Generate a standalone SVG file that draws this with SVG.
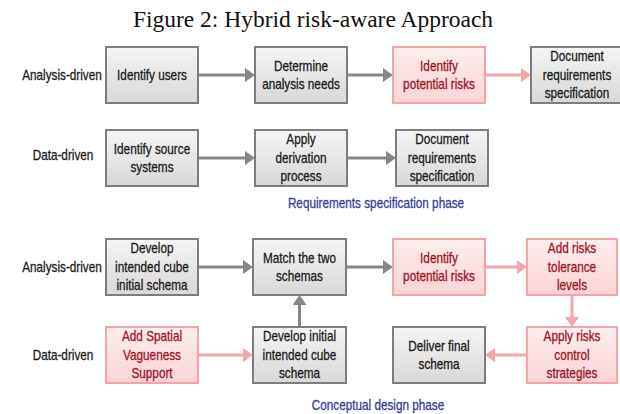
<svg xmlns="http://www.w3.org/2000/svg" width="620" height="414" viewBox="0 0 620 414">
  <style>
    .title { font-family: "Liberation Serif", "Times New Roman", serif; font-size: 23.5px; fill: #111; }
    .t, .lane, .phase {
      font-family: "Liberation Sans", Arial, sans-serif; font-size: 14px; text-anchor: middle;
      transform-box: fill-box; transform-origin: center; transform: scaleX(0.84);
      stroke-width: 0.3;
    }
    .grey rect { fill: url(#gGrey); stroke: #7d7d7d; stroke-width: 2; }
    .grey text { fill: #1c1c1c; stroke: #1c1c1c; }
    .risk rect { fill: url(#gPink); stroke: #f4a3a6; stroke-width: 2; }
    .risk text { fill: #9c1529; stroke: #9c1529; }
    .lane { fill: #1c1c1c; stroke: #1c1c1c; }
    .phase { fill: #3b3ba0; stroke: #3b3ba0; }
    .cg { stroke: #868686; stroke-width: 3; fill: none; marker-end: url(#hGrey); }
    .cp { stroke: #f6a5a8; stroke-width: 3; fill: none; marker-end: url(#hPink); }
  </style>
  <defs>
    <linearGradient id="gGrey" x1="0" y1="0" x2="0" y2="1">
      <stop offset="0" stop-color="#f5f5f5"/>
      <stop offset="1" stop-color="#d8d8d8"/>
    </linearGradient>
    <linearGradient id="gPink" x1="0" y1="0" x2="0" y2="1">
      <stop offset="0" stop-color="#fdeeee"/>
      <stop offset="1" stop-color="#fbd3d5"/>
    </linearGradient>
    <marker id="hGrey" viewBox="0 0 10 14" refX="4" refY="7" markerWidth="10" markerHeight="14" markerUnits="userSpaceOnUse" orient="auto">
      <path d="M0,0 L10,7 L0,14 z" fill="#868686"/>
    </marker>
    <marker id="hPink" viewBox="0 0 10 14" refX="4" refY="7" markerWidth="10" markerHeight="14" markerUnits="userSpaceOnUse" orient="auto">
      <path d="M0,0 L10,7 L0,14 z" fill="#f6a5a8"/>
    </marker>
  </defs>

  <rect width="620" height="414" fill="#ffffff"/>

  <text class="title" x="313" y="27" text-anchor="middle">Figure 2: Hybrid risk-aware Approach</text>

  <!-- swim-lane labels -->
  <text class="lane" x="62" y="80">Analysis-driven</text>
  <text class="lane" x="63" y="160">Data-driven</text>
  <text class="lane" x="62" y="272">Analysis-driven</text>
  <text class="lane" x="63" y="360">Data-driven</text>

  <!-- connectors -->
  <g id="connectors">
    <line class="cg" x1="198" y1="75" x2="249" y2="75"/>
    <line class="cg" x1="347" y1="75" x2="387" y2="75"/>
    <line class="cp" x1="485" y1="75" x2="525" y2="75"/>

    <line class="cg" x1="198" y1="158" x2="249" y2="158"/>
    <line class="cg" x1="347" y1="158" x2="390" y2="158"/>

    <line class="cg" x1="198" y1="267" x2="247" y2="267"/>
    <line class="cg" x1="346" y1="267" x2="387" y2="267"/>
    <line class="cp" x1="485" y1="267" x2="521" y2="267"/>

    <line class="cg" x1="299.5" y1="327" x2="299.5" y2="301"/>
    <line class="cp" x1="572" y1="295" x2="572" y2="321"/>

    <line class="cp" x1="198" y1="355" x2="247" y2="355"/>
    <line class="cp" x1="527" y1="355" x2="491" y2="355"/>
  </g>

  <!-- requirements specification phase -->
  <g id="identify-users" class="grey">
    <rect x="106" y="47" width="92" height="56"/>
    <text class="t" x="152" y="80">Identify users</text>
  </g>
  <g id="determine-needs" class="grey">
    <rect x="255" y="47" width="92" height="56"/>
    <text class="t" x="301" y="71">Determine</text>
    <text class="t" x="301" y="89">analysis needs</text>
  </g>
  <g id="identify-risks-req" class="risk">
    <rect x="393" y="47" width="92" height="56"/>
    <text class="t" x="439" y="71">Identify</text>
    <text class="t" x="439" y="89">potential risks</text>
  </g>
  <g id="document-req-analysis" class="grey">
    <rect x="531" y="47" width="92" height="56"/>
    <text class="t" x="577" y="61.5">Document</text>
    <text class="t" x="577" y="80">requirements</text>
    <text class="t" x="577" y="98.5">specification</text>
  </g>

  <g id="identify-sources" class="grey">
    <rect x="106" y="130" width="92" height="56"/>
    <text class="t" x="152" y="154">Identify source</text>
    <text class="t" x="152" y="172">systems</text>
  </g>
  <g id="apply-derivation" class="grey">
    <rect x="255" y="130" width="92" height="56"/>
    <text class="t" x="301" y="144.5">Apply</text>
    <text class="t" x="301" y="163">derivation</text>
    <text class="t" x="301" y="181.5">process</text>
  </g>
  <g id="document-req-data" class="grey">
    <rect x="396" y="130" width="92" height="56"/>
    <text class="t" x="442" y="144.5">Document</text>
    <text class="t" x="442" y="163">requirements</text>
    <text class="t" x="442" y="181.5">specification</text>
  </g>

  <text class="phase" x="376" y="208">Requirements specification phase</text>

  <!-- conceptual design phase -->
  <g id="develop-initial-schema" class="grey">
    <rect x="106" y="239" width="92" height="56"/>
    <text class="t" x="152" y="253.5">Develop</text>
    <text class="t" x="152" y="272">intended cube</text>
    <text class="t" x="152" y="290.5">initial schema</text>
  </g>
  <g id="match-schemas" class="grey">
    <rect x="253" y="239" width="93" height="56"/>
    <text class="t" x="299.5" y="263">Match the two</text>
    <text class="t" x="299.5" y="281">schemas</text>
  </g>
  <g id="identify-risks-design" class="risk">
    <rect x="393" y="239" width="92" height="56"/>
    <text class="t" x="439" y="263">Identify</text>
    <text class="t" x="439" y="281">potential risks</text>
  </g>
  <g id="tolerance-levels" class="risk">
    <rect x="527" y="239" width="90" height="56"/>
    <text class="t" x="572" y="253.5">Add risks</text>
    <text class="t" x="572" y="272">tolerance</text>
    <text class="t" x="572" y="290.5">levels</text>
  </g>

  <g id="spatial-vagueness" class="risk">
    <rect x="106" y="327" width="92" height="56"/>
    <text class="t" x="152" y="341.5">Add Spatial</text>
    <text class="t" x="152" y="360">Vagueness</text>
    <text class="t" x="152" y="378.5">Support</text>
  </g>
  <g id="develop-intended-schema" class="grey">
    <rect x="253" y="327" width="93" height="56"/>
    <text class="t" x="299.5" y="341.5">Develop initial</text>
    <text class="t" x="299.5" y="360">intended cube</text>
    <text class="t" x="299.5" y="378.5">schema</text>
  </g>
  <g id="deliver-final" class="grey">
    <rect x="393" y="327" width="92" height="56"/>
    <text class="t" x="439" y="351">Deliver final</text>
    <text class="t" x="439" y="369">schema</text>
  </g>
  <g id="control-strategies" class="risk">
    <rect x="527" y="327" width="90" height="56"/>
    <text class="t" x="572" y="341.5">Apply risks</text>
    <text class="t" x="572" y="360">control</text>
    <text class="t" x="572" y="378.5">strategies</text>
  </g>

  <text class="phase" x="378" y="410">Conceptual design phase</text>
</svg>
